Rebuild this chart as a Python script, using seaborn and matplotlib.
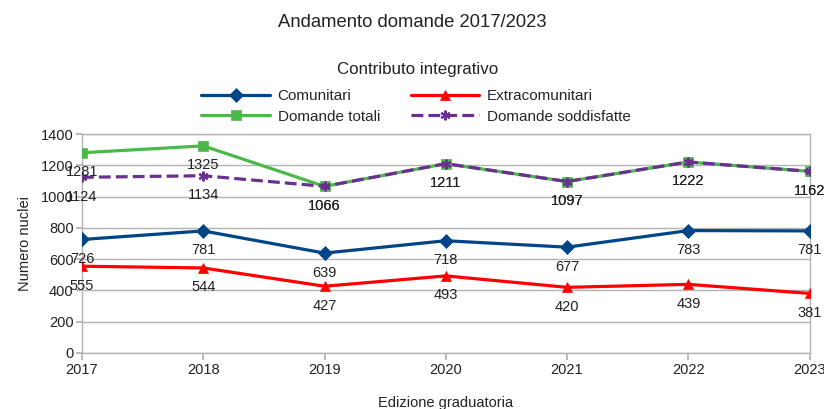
import pandas as pd
import matplotlib.pyplot as plt
import seaborn as sns

years = [2017, 2018, 2019, 2020, 2021, 2022, 2023]
comunitari = [726, 781, 639, 718, 677, 783, 781]
extracomunitari = [555, 544, 427, 493, 420, 439, 381]
domande_totali = [1281, 1325, 1066, 1211, 1097, 1222, 1162]
domande_soddisfatte = [1124, 1134, 1066, 1211, 1097, 1222, 1162]

series = [
    ("Comunitari", comunitari, "#004586", "D", "-"),
    ("Extracomunitari", extracomunitari, "#ff0000", "^", "-"),
    ("Domande totali", domande_totali, "#4cb84c", "s", "-"),
    ("Domande soddisfatte", domande_soddisfatte, "#6a2f8f", (6, 2, 0), "--"),
]

sns.set_theme(style="whitegrid")
plt.rcParams["font.family"] = ["Liberation Sans", "DejaVu Sans"]

fig = plt.figure(figsize=(8.24, 4.09), dpi=100)
ax = fig.add_axes([0.0995, 0.137, 0.883, 0.535])

# draw totals/soddisfatte first so the dashed line sits on top of the green one
order = [2, 3, 0, 1]
for i in order:
    name, vals, color, marker, ls = series[i]
    df = pd.DataFrame({"anno": years, "valore": vals})
    sns.lineplot(data=df, x="anno", y="valore", ax=ax, color=color, marker=marker,
                 linestyle=ls, linewidth=2.3, markersize=7 if marker != "s" else 7.5,
                 markeredgecolor=color, markeredgewidth=1.5 if marker == (6, 2, 0) else 0.5,
                 label=name, zorder=3 + i, legend=False)
    for x, y in zip(years, vals):
        ax.annotate(str(y), (x, y), xytext=(0, -9), textcoords="offset points",
                    ha="center", va="top", fontsize=10.5, color="#222222",
                    annotation_clip=False, zorder=10)

ax.set_xlim(2017, 2023)
ax.set_ylim(0, 1400)
ax.set_yticks(range(0, 1401, 200))
ax.set_xticks(years)
ax.tick_params(axis="both", labelsize=10.5, colors="#222222", length=4, pad=2)
ax.tick_params(axis="x", direction="out", length=5, color="#b3b3b3", bottom=True)
ax.tick_params(axis="y", direction="out", length=4, color="#b3b3b3", left=True)
ax.grid(axis="y", color="#b3b3b3", linewidth=1)
ax.grid(axis="x", visible=False)
for s in ["left", "bottom", "right", "top"]:
    ax.spines[s].set_color("#b3b3b3")
    ax.spines[s].set_linewidth(1)
ax.set_xlabel("Edizione graduatoria", fontsize=10.5, color="#222222", labelpad=14)
ax.set_ylabel("Numero nuclei", fontsize=10.5, color="#222222", labelpad=6)

handles, labels = ax.get_legend_handles_labels()
hmap = dict(zip(labels, handles))
# column-major fill: row 1 Comunitari / Extracomunitari, row 2 totali / soddisfatte
leg_order = ["Comunitari", "Domande totali", "Extracomunitari", "Domande soddisfatte"]
fig.legend([hmap[n] for n in leg_order], leg_order, ncol=2, loc="center",
           bbox_to_anchor=(0.505, 0.74), frameon=False, fontsize=11,
           handlelength=4.5, columnspacing=2.0, handletextpad=0.5, labelspacing=0.45)

fig.text(0.5, 0.944, "Andamento domande 2017/2023", ha="center", va="center",
         fontsize=13.3, color="#222222")
fig.text(0.507, 0.83, "Contributo integrativo", ha="center", va="center",
         fontsize=12.2, color="#222222")

fig.savefig("out.png", dpi=100)
